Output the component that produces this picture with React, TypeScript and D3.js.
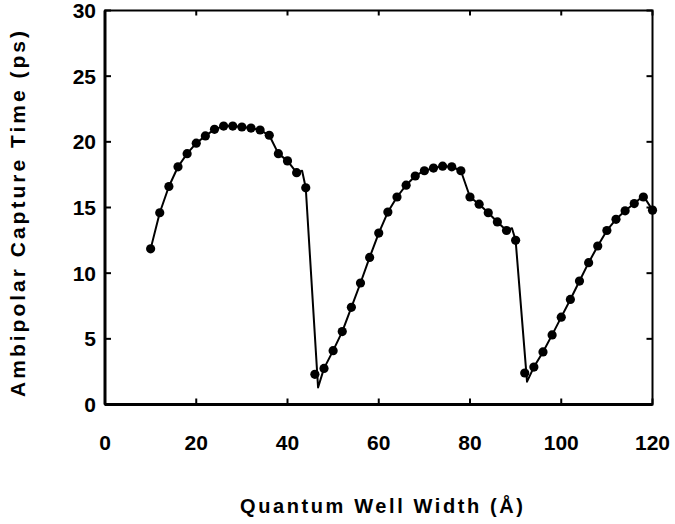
import React from "react";
import * as d3 from "d3";

const widths = [10,12,14,16,18,20,22,24,26,28,30,32,34,36,38,40,42,44,46,48,50,52,54,56,58,60,62,64,66,68,70,72,74,76,78,80,82,84,86,88,90,92,94,96,98,100,102,104,106,108,110,112,114,116,118,120];
const times = [11.85,14.6,16.6,18.1,19.1,19.9,20.45,20.95,21.2,21.2,21.13,21.05,20.9,20.5,19.1,18.55,17.65,16.5,2.3,2.75,4.1,5.55,7.4,9.25,11.2,13.05,14.65,15.8,16.7,17.4,17.8,18.0,18.15,18.1,17.8,15.8,15.25,14.6,13.9,13.25,12.5,2.4,2.85,4.0,5.3,6.65,8.0,9.4,10.8,12.07,13.25,14.1,14.75,15.3,15.8,14.8];

// fitted curve (separate from the markers): dips below points at resonances
const curveX = [10,12,14,16,18,20,22,24,26,28,30,32,34,36,38,40,42,43.2,44,46.7,48,50,52,54,56,58,60,62,64,66,68,70,72,74,76,78,80,82,84,86,88,89.2,90,92.5,94,96,98,100,102,104,106,108,110,112,114,116,118,120];
const curveY = [11.85,14.6,16.6,18.1,19.1,19.9,20.45,20.95,21.2,21.2,21.13,21.05,20.9,20.5,19.1,18.55,17.65,17.8,16.5,1.3,2.75,4.1,5.55,7.4,9.25,11.2,13.05,14.65,15.8,16.7,17.4,17.8,18.0,18.15,18.1,17.8,15.8,15.25,14.6,13.9,13.25,13.42,12.5,1.74,2.85,4.0,5.3,6.65,8.0,9.4,10.8,12.07,13.25,14.1,14.75,15.3,15.9,14.8];

const xTicks = [0,20,40,60,80,100,120];
const yTicks = [0,5,10,15,20,25,30];

export default function App() {
  const W = 675, H = 524;
  const left = 105, right = 652.5, top = 10.5, bottom = 404.5;
  const x = d3.scaleLinear().domain([0, 120]).range([left, right]);
  const y = d3.scaleLinear().domain([0, 30]).range([bottom, top]);
  const line = d3.line<number>().x((_, i) => x(curveX[i])).y((d) => y(d));
  const font = "'Liberation Sans', Arial, Helvetica, sans-serif";
  const tl = 6;
  return (
    <svg width={W} height={H} style={{ position: "absolute", left: 0, top: 0 }}>
      <rect x={0} y={0} width={W} height={H} fill="#fff" />
      <path d={line(curveY) || ""} fill="none" stroke="#000" strokeWidth={2} strokeLinejoin="round" />
      {widths.map((w, i) => (
        <circle key={i} cx={x(w)} cy={y(times[i])} r={4.6} fill="#000" />
      ))}
      <rect x={left} y={top} width={right - left} height={bottom - top} fill="none" stroke="#000" strokeWidth={2} />
      <line x1={left} x2={left} y1={top} y2={bottom} stroke="#000" strokeWidth={3} />
      <line x1={left} x2={right} y1={bottom} y2={bottom} stroke="#000" strokeWidth={3} />
      {xTicks.map((t) => (
        <g key={"x" + t}>
          <line x1={x(t)} x2={x(t)} y1={bottom} y2={bottom - tl} stroke="#000" strokeWidth={2} />
          <line x1={x(t)} x2={x(t)} y1={top} y2={top + 5} stroke="#000" strokeWidth={2} />
          <text x={x(t)} y={449.5} textAnchor="middle" fontFamily={font} fontWeight="bold" fontSize={21}>{t}</text>
        </g>
      ))}
      {yTicks.map((t) => (
        <g key={"y" + t}>
          <line x1={left} x2={left + tl} y1={y(t)} y2={y(t)} stroke="#000" strokeWidth={2} />
          <line x1={right} x2={right - tl} y1={y(t)} y2={y(t)} stroke="#000" strokeWidth={2} />
          <text x={96} y={y(t) + 7.5} textAnchor="end" fontFamily={font} fontWeight="bold" fontSize={21}>{t}</text>
        </g>
      ))}
      <text transform={`translate(25,${211 + 1.5}) rotate(-90)`} textAnchor="middle" fontFamily={font} fontWeight="bold" fontSize={21} letterSpacing={3}>Ambipolar Capture Time (ps)</text>
      <text x={381.5 + 1.3} y={513} textAnchor="middle" fontFamily={font} fontWeight="bold" fontSize={20} letterSpacing={2.6}>Quantum Well Width (Å)</text>
    </svg>
  );
}
